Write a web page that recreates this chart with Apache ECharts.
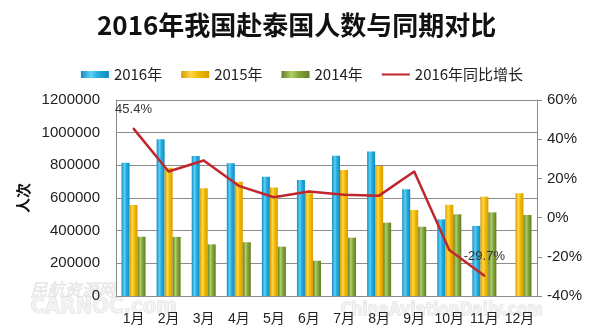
<!DOCTYPE html>
<html>
<head>
<meta charset="utf-8">
<script src="https://cdn.jsdelivr.net/npm/echarts@6/dist/echarts.min.js"></script>
<style>
  html, body { margin: 0; padding: 0; background: #fff; }
  #chart { width: 604px; height: 333px; }
</style>
</head>
<body>
<div id="chart"></div>
<script>
// Monthly tourist visits to Thailand, 2014-2016, with 2016 year-over-year growth
const months = ['1月', '2月', '3月', '4月', '5月', '6月', '7月', '8月', '9月', '10月', '11月', '12月'];
const visits2016 = [816000, 959000, 857000, 812000, 730000, 710000, 859000, 884000, 653000, 469000, 429000, null];
const visits2015 = [557000, 785000, 659000, 700000, 665000, 629000, 771000, 796000, 527000, 559000, 608000, 629000];
const visits2014 = [363000, 362000, 316000, 329000, 302000, 216000, 357000, 449000, 424000, 500000, 512000, 496000];
const growth2016 = [45.4, 23.5, 29.1, 16.2, 10.4, 13.3, 11.6, 11.2, 23.5, -16.5, -29.7, null];
const leftTicks = { min: 0, max: 1200000, step: 200000 };
const rightTicks = { min: -40, max: 60, step: 20 };
// points whose growth value is printed next to the line
const labelledMonths = ['1月', '11月'];

const NUM_FONT = '"Liberation Sans", "Noto Sans CJK SC", sans-serif';
const CJK_FONT = '"Noto Sans CJK SC", "Liberation Sans", sans-serif';

function cylinder(edge, mid, light) {
  return new echarts.graphic.LinearGradient(0, 0, 1, 0, [
    { offset: 0, color: edge },
    { offset: 0.35, color: light },
    { offset: 0.6, color: mid },
    { offset: 1, color: edge }
  ]);
}

const chart = echarts.init(document.getElementById('chart'), null, { renderer: 'canvas' });

const barBase = {
  type: 'bar',
  barWidth: 8,
  barGap: '0%',
  yAxisIndex: 0
};

chart.setOption({
  animation: false,
  backgroundColor: '#ffffff',
  title: {
    text: '2016年我国赴泰国人数与同期对比',
    left: 92,
    top: 7,
    textStyle: { fontFamily: CJK_FONT, fontSize: 26, fontWeight: 'bold', color: '#111' }
  },
  legend: {
    top: 62,
    left: 'center',
    itemWidth: 28,
    itemHeight: 7,
    itemGap: 19,
    textStyle: { fontFamily: CJK_FONT, fontSize: 15, color: '#222' },
    data: [
      { name: '2016年', icon: 'rect' },
      { name: '2015年', icon: 'rect' },
      { name: '2014年', icon: 'rect' },
      { name: '2016年同比增长', icon: 'path://M0,0H30V2.2H0Z' }
    ]
  },
  grid: { left: 116, right: 67, top: 100, bottom: 37 },
  xAxis: {
    type: 'category',
    data: months,
    axisLine: { show: true, lineStyle: { color: '#8c8c8c', width: 1 } },
    axisTick: { show: false },
    axisLabel: { interval: 0, margin: 16, fontFamily: NUM_FONT, fontSize: 14, color: '#222' }
  },
  yAxis: [
    {
      type: 'value',
      min: leftTicks.min,
      max: leftTicks.max,
      interval: leftTicks.step,
      name: '人次',
      nameLocation: 'middle',
      nameRotate: 90,
      nameGap: 76,
      nameTextStyle: { fontFamily: CJK_FONT, fontSize: 15, fontWeight: 'bold', color: '#111' },
      axisLine: { show: true, lineStyle: { color: '#8c8c8c', width: 1 } },
      axisTick: { show: false },
      axisLabel: { margin: 16, fontFamily: NUM_FONT, fontSize: 15, color: '#222', formatter: v => String(v) },
      splitLine: { show: true, lineStyle: { color: '#8c8c8c', width: 1 } }
    },
    {
      type: 'value',
      min: rightTicks.min,
      max: rightTicks.max,
      interval: rightTicks.step,
      position: 'right',
      axisLine: { show: true, lineStyle: { color: '#8c8c8c', width: 1 } },
      axisTick: { show: true, inside: false, length: 5, lineStyle: { color: '#8c8c8c' } },
      axisLabel: { margin: 10, fontFamily: NUM_FONT, fontSize: 15, color: '#222', formatter: '{value}%' },
      splitLine: { show: false }
    }
  ],
  graphic: [
    {
      type: 'text', left: 30, top: 281, z: -1,
      style: { text: '民航资源网', font: 'italic 17px "Noto Sans CJK SC"', fill: '#ececec', stroke: '#dcdcdc', lineWidth: 0.6 }
    },
    {
      type: 'text', left: 30, top: 296, z: -1,
      style: { text: 'CARNOC.com', font: 'bold 22px "DejaVu Sans Condensed", "DejaVu Sans"', fill: '#f2f2f2', stroke: '#d8d8d8', lineWidth: 0.8 }
    },
    {
      type: 'text', left: 340, top: 302, z: -1,
      style: { text: 'ChinaAviationDaily.com', font: 'bold 17px "DejaVu Sans Condensed", "DejaVu Sans"', fill: '#f2f2f2', stroke: '#d8d8d8', lineWidth: 0.8 }
    }
  ],
  series: [
    Object.assign({}, barBase, {
      name: '2016年',
      data: visits2016,
      itemStyle: { color: cylinder('#128ac0', '#22aee0', '#5fd0f5') }
    }),
    Object.assign({}, barBase, {
      name: '2015年',
      data: visits2015,
      itemStyle: { color: cylinder('#d99a00', '#f2bb00', '#ffd84a') }
    }),
    Object.assign({}, barBase, {
      name: '2014年',
      data: visits2014,
      itemStyle: { color: cylinder('#5f7f22', '#86a83a', '#b3cf6a') }
    }),
    {
      name: '2016年同比增长',
      type: 'line',
      yAxisIndex: 1,
      data: growth2016.map((v, i) => ({
        value: v,
        label: { show: labelledMonths.includes(months[i]) && v !== null }
      })),
      symbol: 'circle',
      symbolSize: 2,
      showSymbol: true,
      connectNulls: false,
      lineStyle: { color: '#c0262c', width: 2.5 },
      itemStyle: { color: '#c0262c' },
      label: {
        position: 'top',
        distance: 12,
        fontFamily: NUM_FONT,
        fontSize: 13,
        color: '#333',
        formatter: p => p.value + '%'
      },
      z: 5
    }
  ]
});
</script>
</body>
</html>
